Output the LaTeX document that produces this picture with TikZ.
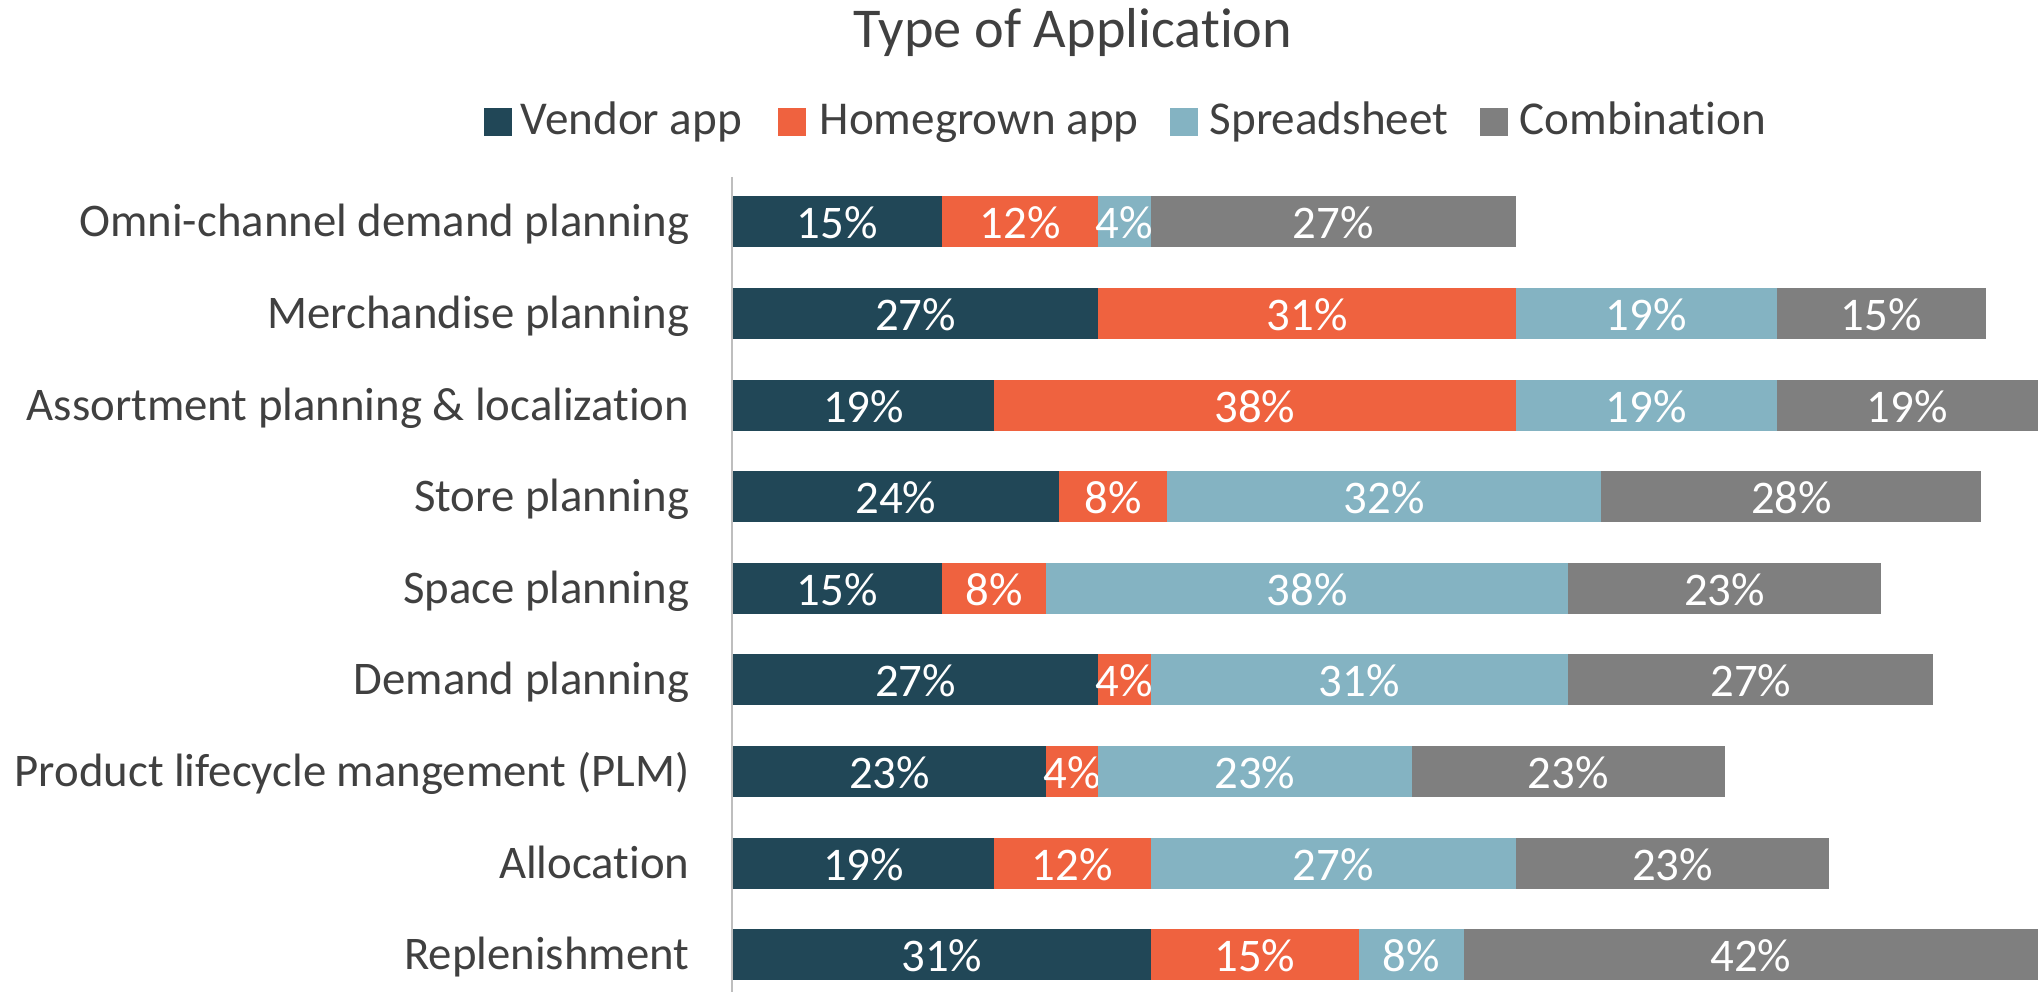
\documentclass[tikz,border=0pt]{standalone}
\usepackage{fontspec}
\setmainfont{Carlito}[RawFeature={-liga;-clig;-calt;-dlig}]
\usetikzlibrary{positioning}

\definecolor{serie1}{RGB}{33,71,87}
\definecolor{serie2}{RGB}{239,98,63}
\definecolor{serie3}{RGB}{132,179,194}
\definecolor{serie4}{RGB}{127,127,127}
\definecolor{texto}{RGB}{64,64,64}
\definecolor{eje}{RGB}{190,190,190}

\begin{document}
\begin{tikzpicture}[x=0.01cm, y=-0.01cm,
	titulo/.style={anchor=base, text=texto, font=\fontsize{16}{19}\selectfont, inner sep=0pt},
	cat/.style={anchor=base east, text=texto, font=\fontsize{13.3}{16}\selectfont, inner sep=0pt},
	val/.style={anchor=base, text=white, font=\fontsize{13.3}{16}\selectfont, inner sep=0pt},
	caja/.style={minimum size=0.28cm, inner sep=0pt},
	leyenda/.style={anchor=base west, text=texto, font=\fontsize{13.4}{16}\selectfont, inner sep=0pt}]
	
	% 0. Marco de la figura
	\useasboundingbox (0,0) rectangle (2039,992);
	
	% 1. Parametros de las barras
	\def\xcero{733}   % inicio de las barras
	\def\pxpc{13.57}  % px por cada 1%
	\def\ycero{222}   % centro de la primera barra
	\def\paso{91.6}   % distancia entre barras
	\def\alto{25.5}   % media altura de barra
	
	% Titulo
	\node[titulo] (titulo) at (1073,48) {Type of Application};
	
	% 2. Leyenda
	\node[caja, fill=serie1] (sq1) at (498,122) {};
	\node[leyenda] (ley1) at (520,135) {Vendor app};
	\node[caja, fill=serie2] (sq2) at (792,122) {};
	\node[leyenda] (ley2) at (819,135) {Homegrown app};
	\node[caja, fill=serie3] (sq3) at (1184,122) {};
	\node[leyenda] (ley3) at (1209,135) {Spreadsheet};
	\node[caja, fill=serie4] (sq4) at (1494,122) {};
	\node[leyenda] (ley4) at (1519,135) {Combination};
	
	% 3. Barras apiladas (cantidad/etiqueta por segmento)
	\foreach \fila/\tot/\nombre/\segs in {
		1/26/Omni-channel demand planning/{4/15,3/12,1/4,7/27},
		2/26/Merchandise planning/{7/27,8/31,5/19,4/15},
		3/26/Assortment planning \& localization/{5/19,10/38,5/19,5/19},
		4/25/Store planning/{6/24,2/8,8/32,7/28},
		5/26/Space planning/{4/15,2/8,10/38,6/23},
		6/26/Demand planning/{7/27,1/4,8/31,7/27},
		7/26/Product lifecycle mangement (PLM)/{6/23,1/4,6/23,6/23},
		8/26/Allocation/{5/19,3/12,7/27,6/23},
		9/26/Replenishment/{8/31,4/15,2/8,11/42}}
	{
		\pgfmathsetmacro\yc{\ycero+(\fila-1)*\paso}
		\node[cat] (cat\fila) at (690,\yc+15) {\nombre};
		\gdef\suma{0}
		\foreach \n/\p [count=\k] in \segs {
			\pgfmathsetmacro\xa{\xcero+\suma/\tot*100*\pxpc}
			\pgfmathsetmacro\xb{\xcero+(\suma+\n)/\tot*100*\pxpc}
			\pgfmathsetmacro\sumb{\suma+\n}
			\xdef\suma{\sumb}
			\fill[serie\k] (\xa,\yc-\alto) rectangle (\xb,\yc+\alto);
			\node[val] (v\fila-\k) at ({(\xa+\xb)/2},\yc+17) {\p\%};
		}
	}
	
	% 4. Eje vertical
	\draw[eje, line width=0.02cm] (732,177) -- (732,992);
	
\end{tikzpicture}
\end{document}
